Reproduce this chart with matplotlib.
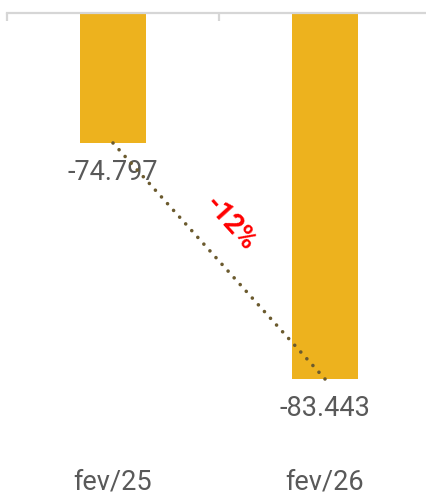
import matplotlib.pyplot as plt
import matplotlib.transforms as mtransforms
import numpy as np

categories = ['fev/25', 'fev/26']
values = [-74797, -83443]

BAR_COLOR = '#EDB21E'
LABEL_COLOR = '#595959'
AXIS_COLOR = '#d6d6d6'

plt.rcParams['font.family'] = ['Roboto', 'DejaVu Sans']


def fmt(v):
    return f"{v:,.0f}".replace(',', '.')


def main():
    W, H = 427, 494
    fig = plt.figure(figsize=(W / 100, H / 100), dpi=100)
    ax = fig.add_axes([7 / W, (H - 455) / H, 424 / W, (455 - 13) / H])

    x = np.arange(len(categories))
    ax.bar(x, values, width=0.31, color=BAR_COLOR, zorder=2)
    ax.set_xlim(-0.5, len(categories) - 0.5)
    ax.set_ylim(-86228, -70035)

    # axis line on top with category separators
    for side in ['left', 'right', 'bottom']:
        ax.spines[side].set_visible(False)
    ax.spines['top'].set_color(AXIS_COLOR)
    ax.spines['top'].set_linewidth(1.6)
    ax.xaxis.tick_top()
    ax.set_xticks(np.arange(len(categories) + 1) - 0.5)
    ax.tick_params(axis='x', direction='in', length=5.5, width=1.6,
                   color=AXIS_COLOR, labeltop=False)
    ax.set_yticks([])

    # data labels
    for xi, v in zip(x, values):
        ax.annotate(fmt(v), (xi, v), xytext=(0, -21.5), textcoords='offset points',
                    ha='center', va='center', fontsize=19.5, color=LABEL_COLOR)

    # category labels
    trans = mtransforms.blended_transform_factory(ax.transData, ax.transAxes)
    for xi, c in zip(x, categories):
        ax.text(xi, -0.06, c, transform=trans, ha='center', va='center',
                fontsize=19.5, color=LABEL_COLOR)

    # dotted trend line with percentage change
    ax.plot(x, values, color='#6b5a2e', lw=2.6, linestyle=(0, (0.01, 2.5)),
            dash_capstyle='round', zorder=3)
    change = (values[1] - values[0]) / abs(values[0]) * 100
    p0 = ax.transData.transform((x[0], values[0]))
    p1 = ax.transData.transform((x[1], values[1]))
    angle = np.degrees(np.arctan2(p1[1] - p0[1], p1[0] - p0[0]))
    ax.annotate(f"{change:.0f}%", ((x[0] + x[1]) / 2, (values[0] + values[1]) / 2),
                xytext=(8, 27), textcoords='offset points', ha='center', va='center',
                rotation=angle, rotation_mode='anchor', fontsize=20,
                fontweight='bold', color='#ff0000', zorder=4)

    fig.savefig('out.png', dpi=100)


if __name__ == "__main__":
    main()
